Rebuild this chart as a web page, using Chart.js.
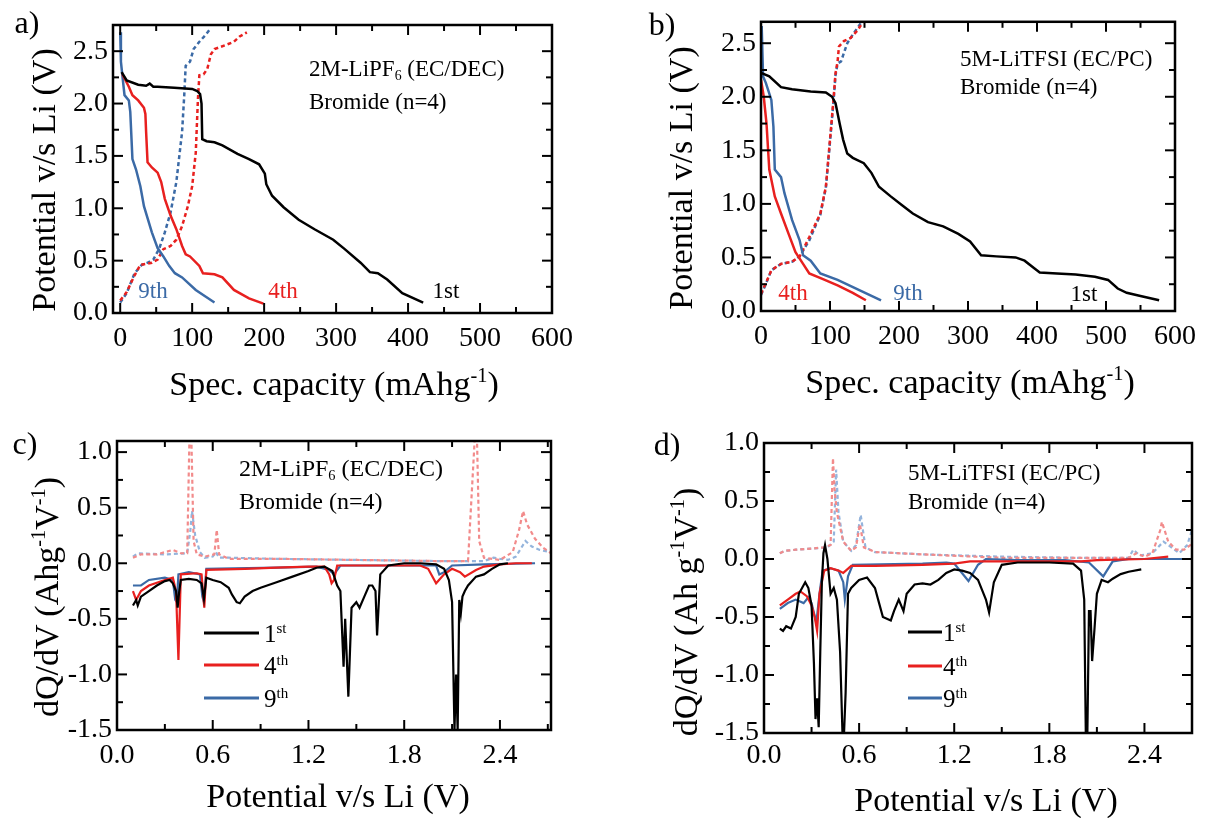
<!DOCTYPE html>
<html>
<head>
<meta charset="utf-8">
<script src="https://cdn.jsdelivr.net/npm/chart.js@4.4.1/dist/chart.umd.min.js"></script>
<style>
  body { margin: 0; width: 1205px; height: 818px; background: #fff; position: relative; overflow: hidden; }
  canvas { position: absolute; }
  .t { position: absolute; font-family: 'Liberation Serif', 'DejaVu Serif', serif; white-space: nowrap; line-height: 1; color: #000; }
  .c { transform: translate(-50%, -50%); }
  .l { transform: translate(0, -50%); }
  .r { transform: translate(-50%, -50%) rotate(-90deg); }
  .t sup { font-size: 60%; vertical-align: 0.6em; }
  .t sub { font-size: 60%; vertical-align: -0.25em; }
  .leg { position: absolute; height: 0; border-top: 3px solid; transform: translateY(-1.5px); }
</style>
</head>
<body>
<canvas id="chartA" style="left:0;top:0" width="600" height="400"></canvas>
<canvas id="chartB" style="left:600px;top:0" width="605" height="400"></canvas>
<canvas id="chartC" style="left:0;top:400px" width="600" height="418"></canvas>
<canvas id="chartD" style="left:600px;top:400px" width="605" height="418"></canvas>

<!-- panel a -->
<div class="t c" style="left:27px;top:22px;font-size:32px">a)</div>
<div class="t r" style="left:44px;top:180px;font-size:34px">Potential v/s Li (V)</div>
<div class="t c" style="left:334px;top:383px;font-size:34px">Spec. capacity (mAhg<sup>-1</sup>)</div>
<div class="t l" style="left:309px;top:70px;font-size:23px">2M-LiPF<sub>6</sub> (EC/DEC)</div>
<div class="t l" style="left:309px;top:101px;font-size:23px">Bromide (n=4)</div>
<div class="t c" style="left:153px;top:290px;font-size:23px;color:#3b6aa6">9th</div>
<div class="t c" style="left:283px;top:290px;font-size:23px;color:#e8201f">4th</div>
<div class="t c" style="left:446px;top:290px;font-size:23px">1st</div>

<!-- panel b -->
<div class="t c" style="left:662px;top:24px;font-size:32px">b)</div>
<div class="t r" style="left:681px;top:178px;font-size:34px">Potential v/s Li (V)</div>
<div class="t c" style="left:970px;top:381px;font-size:34px">Spec. capacity (mAhg<sup>-1</sup>)</div>
<div class="t l" style="left:960px;top:58px;font-size:23px">5M-LiTFSI (EC/PC)</div>
<div class="t l" style="left:960px;top:86px;font-size:23px">Bromide (n=4)</div>
<div class="t c" style="left:793px;top:292px;font-size:23px;color:#e8201f">4th</div>
<div class="t c" style="left:908px;top:292px;font-size:23px;color:#3b6aa6">9th</div>
<div class="t c" style="left:1084px;top:293px;font-size:23px">1st</div>

<!-- panel c -->
<div class="t c" style="left:25px;top:443px;font-size:32px">c)</div>
<div class="t r" style="left:46px;top:597px;font-size:34px">dQ/dV (Ahg<sup>-1</sup>V<sup>-1</sup>)</div>
<div class="t c" style="left:338px;top:796px;font-size:34px">Potential v/s Li (V)</div>
<div class="t l" style="left:239px;top:469px;font-size:24px">2M-LiPF<sub>6</sub> (EC/DEC)</div>
<div class="t l" style="left:239px;top:501px;font-size:24px">Bromide (n=4)</div>
<div class="leg" style="left:204px;top:633px;width:55px;border-color:#000"></div>
<div class="leg" style="left:204px;top:665px;width:55px;border-color:#e8201f"></div>
<div class="leg" style="left:204px;top:698px;width:55px;border-color:#3b6aa6"></div>
<div class="t l" style="left:264px;top:633px;font-size:25px">1<sup>st</sup></div>
<div class="t l" style="left:264px;top:665px;font-size:25px">4<sup>th</sup></div>
<div class="t l" style="left:264px;top:698px;font-size:25px">9<sup>th</sup></div>

<!-- panel d -->
<div class="t c" style="left:667px;top:444px;font-size:32px">d)</div>
<div class="t r" style="left:685px;top:612px;font-size:34px">dQ/dV (Ah g<sup>-1</sup>V<sup>-1</sup>)</div>
<div class="t c" style="left:986px;top:800px;font-size:34px">Potential v/s Li (V)</div>
<div class="t l" style="left:908px;top:472px;font-size:23px">5M-LiTFSI (EC/PC)</div>
<div class="t l" style="left:908px;top:501px;font-size:23px">Bromide (n=4)</div>
<div class="leg" style="left:908px;top:632px;width:34px;border-color:#000"></div>
<div class="leg" style="left:908px;top:666px;width:34px;border-color:#e8201f"></div>
<div class="leg" style="left:908px;top:698px;width:34px;border-color:#3b6aa6"></div>
<div class="t l" style="left:943px;top:632px;font-size:25px">1<sup>st</sup></div>
<div class="t l" style="left:943px;top:666px;font-size:25px">4<sup>th</sup></div>
<div class="t l" style="left:943px;top:698px;font-size:25px">9<sup>th</sup></div>

<script>
// tick labels
const capTicks = [0, 100, 200, 300, 400, 500, 600];
const potTicks = [0, 0.5, 1.0, 1.5, 2.0, 2.5];
const dqdvXTicks = [0, 0.6, 1.2, 1.8, 2.4];
const dqdvYTicks = [-1.5, -1.0, -0.5, 0, 0.5, 1.0];

// ---- panel a : 2M-LiPF6, capacity (mAh/g) vs potential (V)
const a1stCap = [2, 9, 25, 36, 41, 46, 52, 75, 100, 107, 111, 113, 114, 120, 131, 142, 163, 179, 193, 201, 203, 211, 227, 248, 270, 296, 312, 334, 347, 358, 371, 392, 421];
const a1stV = [2.30, 2.22, 2.18, 2.17, 2.19, 2.16, 2.16, 2.15, 2.14, 2.12, 2.09, 2.00, 1.66, 1.64, 1.63, 1.60, 1.52, 1.47, 1.42, 1.33, 1.23, 1.12, 1.01, 0.89, 0.80, 0.70, 0.61, 0.48, 0.39, 0.38, 0.32, 0.19, 0.10];
const a4thCap = [3, 12, 17, 25, 33, 35, 36, 38, 44, 52, 57, 62, 70, 78, 86, 91, 97, 110, 115, 131, 142, 158, 179, 199];
const a4thV = [2.28, 2.16, 2.08, 2.03, 1.96, 1.90, 1.73, 1.44, 1.39, 1.34, 1.25, 1.09, 0.93, 0.80, 0.64, 0.56, 0.54, 0.45, 0.38, 0.37, 0.34, 0.22, 0.14, 0.09];
const a9thCap = [0, 1, 3, 6, 12, 14, 17, 22, 28, 33, 44, 52, 60, 68, 76, 86, 105, 131];
const a9thV = [2.68, 2.40, 2.27, 2.08, 2.03, 1.92, 1.47, 1.37, 1.21, 1.02, 0.77, 0.62, 0.54, 0.45, 0.38, 0.34, 0.22, 0.10];
const a4thChgCap = [0, 9, 20, 28, 44, 52, 60, 70, 78, 86, 94, 100, 105, 108, 110, 116, 121, 126, 131, 147, 158, 166, 176];
const a4thChgV = [0.12, 0.20, 0.36, 0.46, 0.48, 0.51, 0.61, 0.64, 0.70, 0.83, 1.02, 1.21, 1.53, 2.04, 2.27, 2.28, 2.33, 2.47, 2.52, 2.56, 2.59, 2.64, 2.68];
const a9thChgCap = [0, 9, 20, 30, 38, 46, 54, 62, 70, 78, 86, 89, 91, 97, 102, 110, 118, 126];
const a9thChgV = [0.10, 0.19, 0.38, 0.46, 0.48, 0.51, 0.61, 0.77, 0.96, 1.25, 1.73, 2.08, 2.36, 2.40, 2.52, 2.59, 2.65, 2.72];

// ---- panel b : 5M-LiTFSI
const b1stCap = [1, 12, 29, 45, 72, 94, 103, 108, 114, 119, 125, 133, 149, 160, 171, 188, 204, 220, 242, 264, 286, 303, 319, 341, 369, 382, 396, 404, 429, 456, 484, 503, 517, 530, 550, 577];
const b1stV = [2.22, 2.19, 2.09, 2.07, 2.05, 2.04, 2.00, 1.94, 1.75, 1.60, 1.47, 1.43, 1.38, 1.29, 1.16, 1.07, 0.99, 0.91, 0.83, 0.79, 0.72, 0.65, 0.52, 0.51, 0.50, 0.47, 0.40, 0.36, 0.35, 0.34, 0.32, 0.29, 0.21, 0.17, 0.14, 0.10];
const b4thCap = [0, 4, 8, 12, 20, 29, 40, 50, 61, 70, 89, 111, 133, 152];
const b4thV = [2.16, 2.00, 1.75, 1.32, 1.07, 0.91, 0.72, 0.55, 0.44, 0.35, 0.30, 0.24, 0.17, 0.10];
const b9thCap = [1, 3, 7, 15, 18, 20, 29, 34, 45, 56, 61, 72, 86, 111, 144, 174];
const b9thV = [2.66, 2.19, 2.13, 1.97, 1.72, 1.32, 1.25, 1.10, 0.85, 0.66, 0.52, 0.47, 0.35, 0.29, 0.19, 0.10];
const b4thChgCap = [0, 7, 15, 29, 45, 56, 70, 86, 94, 100, 105, 108, 111, 113, 120, 130, 140, 148];
const b4thChgV = [0.16, 0.26, 0.38, 0.44, 0.46, 0.51, 0.69, 0.91, 1.16, 1.60, 1.97, 2.22, 2.33, 2.47, 2.52, 2.55, 2.62, 2.70];
const b9thChgCap = [0, 7, 15, 29, 45, 56, 70, 86, 94, 100, 105, 108, 111, 116, 125, 135, 146];
const b9thChgV = [0.15, 0.25, 0.38, 0.44, 0.46, 0.51, 0.66, 0.90, 1.15, 1.58, 1.95, 2.20, 2.31, 2.33, 2.50, 2.60, 2.70];

// ---- panel c : dQ/dV, 2M-LiPF6
const c1stV = [0.10, 0.12, 0.13, 0.15, 0.20, 0.25, 0.30, 0.33, 0.35, 0.37, 0.38, 0.39, 0.40, 0.45, 0.50, 0.53, 0.545, 0.56, 0.60, 0.65, 0.70, 0.72, 0.75, 0.77, 0.80, 0.85, 0.90, 1.00, 1.10, 1.20, 1.25, 1.30, 1.35, 1.38, 1.40, 1.42, 1.43, 1.45, 1.47, 1.50, 1.52, 1.55, 1.58, 1.60, 1.62, 1.63, 1.65, 1.70, 1.80, 1.90, 2.00, 2.05, 2.08, 2.10, 2.115, 2.125, 2.135, 2.145, 2.155, 2.165, 2.18, 2.20, 2.25, 2.30, 2.35, 2.40, 2.45];
const c1stD = [-0.38, -0.33, -0.38, -0.30, -0.25, -0.20, -0.16, -0.15, -0.18, -0.25, -0.40, -0.25, -0.15, -0.14, -0.15, -0.18, -0.32, -0.13, -0.15, -0.17, -0.22, -0.28, -0.35, -0.36, -0.30, -0.25, -0.22, -0.17, -0.12, -0.07, -0.04, -0.03, -0.07, -0.20, -0.25, -0.93, -0.50, -1.20, -0.40, -0.35, -0.40, -0.30, -0.20, -0.20, -0.25, -0.65, -0.10, -0.02, 0.00, 0.00, -0.01, -0.05, -0.15, -0.35, -1.50, -1.00, -1.50, -0.33, -0.45, -0.30, -0.25, -0.20, -0.12, -0.10, -0.05, -0.01, 0.00];
const c4thV = [0.10, 0.12, 0.15, 0.20, 0.30, 0.35, 0.37, 0.385, 0.40, 0.50, 0.53, 0.547, 0.56, 0.80, 1.00, 1.20, 1.30, 1.33, 1.345, 1.36, 1.38, 1.50, 1.90, 1.95, 2.00, 2.05, 2.10, 2.15, 2.18, 2.25, 2.30, 2.40, 2.50, 2.60];
const c4thD = [-0.25, -0.33, -0.25, -0.20, -0.15, -0.13, -0.25, -0.87, -0.10, -0.09, -0.10, -0.40, -0.06, -0.05, -0.04, -0.03, -0.03, -0.10, -0.18, -0.15, -0.02, -0.02, -0.02, -0.05, -0.18, -0.10, -0.05, -0.08, -0.12, -0.06, -0.03, -0.01, 0.00, 0.00];
const c9thV = [0.10, 0.15, 0.20, 0.30, 0.35, 0.365, 0.375, 0.385, 0.45, 0.52, 0.535, 0.545, 0.56, 1.00, 1.25, 1.33, 1.36, 1.40, 2.00, 2.02, 2.05, 2.10, 2.30, 2.62];
const c9thD = [-0.20, -0.20, -0.15, -0.13, -0.15, -0.33, -0.35, -0.10, -0.08, -0.10, -0.30, -0.35, -0.05, -0.04, -0.03, -0.06, -0.10, -0.02, -0.02, -0.10, -0.08, -0.02, -0.01, 0.00];
const c4thChgV = [0.10, 0.15, 0.25, 0.30, 0.35, 0.40, 0.44, 0.455, 0.465, 0.48, 0.50, 0.55, 0.61, 0.625, 0.64, 0.70, 1.00, 1.50, 2.00, 2.20, 2.245, 2.255, 2.27, 2.30, 2.40, 2.48, 2.52, 2.545, 2.57, 2.62, 2.67, 2.72];
const c4thChgD = [0.05, 0.08, 0.08, 0.10, 0.12, 0.09, 0.09, 1.20, 1.20, 0.20, 0.08, 0.06, 0.08, 0.30, 0.08, 0.04, 0.04, 0.03, 0.02, 0.02, 1.20, 1.20, 0.20, 0.05, 0.03, 0.10, 0.30, 0.47, 0.35, 0.22, 0.14, 0.09];
const c9thChgV = [0.10, 0.13, 0.30, 0.44, 0.46, 0.47, 0.49, 0.52, 0.55, 0.60, 0.62, 0.64, 0.70, 1.00, 1.50, 2.00, 2.30, 2.36, 2.40, 2.45, 2.50, 2.56, 2.60, 2.65, 2.72];
const c9thChgD = [0.06, 0.09, 0.08, 0.09, 0.30, 0.47, 0.25, 0.10, 0.05, 0.06, 0.10, 0.05, 0.05, 0.04, 0.03, 0.02, 0.02, 0.05, 0.04, 0.03, 0.06, 0.20, 0.15, 0.12, 0.10];

// ---- panel d : dQ/dV, 5M-LiTFSI
const d1stV = [0.10, 0.12, 0.14, 0.17, 0.20, 0.22, 0.26, 0.28, 0.30, 0.315, 0.325, 0.335, 0.345, 0.355, 0.365, 0.375, 0.385, 0.40, 0.42, 0.44, 0.46, 0.48, 0.495, 0.505, 0.515, 0.53, 0.55, 0.60, 0.65, 0.70, 0.72, 0.75, 0.80, 0.82, 0.85, 0.88, 0.90, 0.95, 1.00, 1.05, 1.10, 1.15, 1.20, 1.25, 1.30, 1.35, 1.40, 1.42, 1.45, 1.50, 1.60, 1.80, 1.95, 2.00, 2.02, 2.03, 2.04, 2.05, 2.06, 2.07, 2.085, 2.10, 2.13, 2.17, 2.20, 2.25, 2.30, 2.38];
const d1stD = [-0.60, -0.62, -0.58, -0.60, -0.50, -0.30, -0.20, -0.25, -0.40, -0.90, -1.38, -1.20, -1.45, -0.80, -0.20, 0.05, 0.12, 0.00, -0.30, -0.25, -0.35, -0.80, -1.50, -1.50, -1.15, -0.30, -0.25, -0.18, -0.16, -0.25, -0.35, -0.50, -0.53, -0.45, -0.35, -0.45, -0.30, -0.22, -0.21, -0.22, -0.18, -0.12, -0.09, -0.10, -0.12, -0.18, -0.35, -0.46, -0.20, -0.05, -0.03, -0.03, -0.04, -0.10, -0.35, -1.50, -1.50, -0.45, -0.45, -0.88, -0.60, -0.30, -0.18, -0.20, -0.17, -0.13, -0.11, -0.09];
const d4thV = [0.10, 0.15, 0.20, 0.23, 0.27, 0.30, 0.32, 0.335, 0.35, 0.38, 0.42, 0.47, 0.50, 0.55, 0.70, 1.00, 1.20, 1.30, 1.50, 2.00, 2.10, 2.40, 2.55];
const d4thD = [-0.40, -0.35, -0.30, -0.28, -0.32, -0.40, -0.50, -0.62, -0.30, -0.10, -0.08, -0.10, -0.12, -0.06, -0.06, -0.05, -0.04, -0.02, -0.02, -0.02, -0.01, 0.00, 0.02];
const d9thV = [0.10, 0.15, 0.20, 0.25, 0.28, 0.30, 0.33, 0.35, 0.37, 0.42, 0.47, 0.50, 0.51, 0.53, 0.56, 1.00, 1.15, 1.20, 1.29, 1.35, 1.40, 1.60, 1.90, 2.05, 2.14, 2.20, 2.30, 2.65];
const d9thD = [-0.43, -0.38, -0.35, -0.38, -0.33, -0.38, -0.55, -0.30, -0.10, -0.08, -0.10, -0.20, -0.35, -0.15, -0.05, -0.04, -0.03, -0.04, -0.19, -0.05, 0.00, -0.01, -0.01, -0.03, -0.15, -0.02, 0.00, 0.00];
const d4thChgV = [0.10, 0.13, 0.20, 0.30, 0.38, 0.42, 0.435, 0.445, 0.46, 0.50, 0.55, 0.58, 0.605, 0.63, 0.70, 1.00, 1.50, 2.00, 2.30, 2.35, 2.40, 2.45, 2.50, 2.51, 2.55, 2.60, 2.65, 2.70];
const d4thChgD = [0.05, 0.07, 0.08, 0.09, 0.10, 0.12, 0.87, 0.60, 0.40, 0.15, 0.07, 0.10, 0.30, 0.10, 0.06, 0.04, 0.01, 0.01, 0.01, 0.05, 0.02, 0.05, 0.25, 0.32, 0.15, 0.08, 0.08, 0.13];
const d9thChgV = [0.10, 0.13, 0.20, 0.30, 0.40, 0.44, 0.455, 0.47, 0.50, 0.55, 0.58, 0.61, 0.64, 0.70, 1.00, 1.50, 2.00, 2.30, 2.33, 2.37, 2.45, 2.52, 2.57, 2.62, 2.67, 2.70];
const d9thChgD = [0.05, 0.07, 0.08, 0.09, 0.10, 0.15, 0.77, 0.40, 0.15, 0.07, 0.12, 0.38, 0.10, 0.06, 0.04, 0.02, 0.01, 0.01, 0.08, 0.03, 0.05, 0.15, 0.10, 0.05, 0.12, 0.25];

const BLACK = '#000000';
const RED = '#e8201f';
const BLUE = '#3b6aa6';
const RED_LIGHT = '#f28b8b';
const BLUE_LIGHT = '#94b4dc';
const SERIF = "'Liberation Serif', 'DejaVu Serif', serif";

function series(xs, ys, color, dashed, width) {
	return {
		data: xs.map((x, i) => ({ x: x, y: ys[i] })),
		showLine: true,
		borderColor: color,
		backgroundColor: color,
		borderWidth: width,
		borderDash: dashed ? [4, 3] : [],
		pointRadius: 0,
		tension: 0,
		fill: false
	};
}

// closed frame with inward ticks on all four sides
const frameTicks = {
	id: 'frameTicks',
	afterDatasetsDraw(chart, args, opts) {
		const ctx = chart.ctx;
		const a = chart.chartArea;
		const x = chart.scales.x;
		const y = chart.scales.y;
		ctx.save();
		ctx.strokeStyle = '#000';
		ctx.lineWidth = 2;
		const seg = (x1, y1, x2, y2) => { ctx.beginPath(); ctx.moveTo(x1, y1); ctx.lineTo(x2, y2); ctx.stroke(); };
		for (let i = Math.ceil(x.min / opts.xMinor - 1e-6); i * opts.xMinor <= x.max + 1e-6; i++) {
			const v = i * opts.xMinor;
			const major = Math.abs(v / opts.xMajor - Math.round(v / opts.xMajor)) < 1e-6;
			const len = major ? 10 : 6;
			const px = x.getPixelForValue(v);
			seg(px, a.bottom, px, a.bottom - len);
			seg(px, a.top, px, a.top + len);
		}
		for (let i = Math.ceil(y.min / opts.yMinor - 1e-6); i * opts.yMinor <= y.max + 1e-6; i++) {
			const v = i * opts.yMinor;
			const major = Math.abs(v / opts.yMajor - Math.round(v / opts.yMajor)) < 1e-6;
			const len = major ? 10 : 6;
			const py = y.getPixelForValue(v);
			seg(a.left, py, a.left + len, py);
			seg(a.right, py, a.right - len, py);
		}
		ctx.lineWidth = 2.5;
		ctx.strokeRect(a.left, a.top, a.right - a.left, a.bottom - a.top);
		ctx.restore();
	}
};

function makePanel(id, datasets, box, xs, ys) {
	new Chart(id, {
		type: 'scatter',
		data: { datasets: datasets },
		plugins: [frameTicks],
		options: {
			responsive: false,
			animation: false,
			devicePixelRatio: 1,
			layout: { padding: { left: 0, top: box.top, right: box.right, bottom: 0 } },
			plugins: {
				legend: { display: false },
				tooltip: { enabled: false },
				frameTicks: { xMajor: xs.step, xMinor: xs.minor, yMajor: ys.step, yMinor: ys.minor }
			},
			scales: {
				x: {
					type: 'linear',
					min: xs.min,
					max: xs.max,
					grid: { display: false, drawTicks: false },
					border: { display: false },
					afterBuildTicks: s => { s.ticks = xs.ticks.map(v => ({ value: v })); },
					ticks: {
						autoSkip: false,
						maxRotation: 0,
						padding: xs.pad,
						color: '#000',
						font: { family: SERIF, size: 28 },
						callback: v => v.toFixed(xs.dec)
					},
					afterFit: s => { s.height = box.xh; }
				},
				y: {
					type: 'linear',
					min: ys.min,
					max: ys.max,
					grid: { display: false, drawTicks: false },
					border: { display: false },
					afterBuildTicks: s => { s.ticks = ys.ticks.map(v => ({ value: v })); },
					ticks: {
						autoSkip: false,
						padding: ys.pad,
						color: '#000',
						font: { family: SERIF, size: 28 },
						callback: v => v.toFixed(ys.dec)
					},
					afterFit: s => { s.width = box.left; }
				}
			}
		}
	});
}

makePanel('chartA', [
	series(a1stCap, a1stV, BLACK, false, 2.5),
	series(a4thCap, a4thV, RED, false, 2.5),
	series(a9thCap, a9thV, BLUE, false, 2.5),
	series(a4thChgCap, a4thChgV, RED, true, 2.5),
	series(a9thChgCap, a9thChgV, BLUE, true, 2.5)
], { left: 113, top: 25, right: 48, xh: 87 },
	{ min: -10, max: 600, ticks: capTicks, step: 100, minor: 50, dec: 0, pad: 9 },
	{ min: 0, max: 2.75, ticks: potTicks, step: 0.5, minor: 0.25, dec: 1, pad: 5 });

makePanel('chartB', [
	series(b1stCap, b1stV, BLACK, false, 2.5),
	series(b4thCap, b4thV, RED, false, 2.5),
	series(b9thCap, b9thV, BLUE, false, 2.5),
	series(b4thChgCap, b4thChgV, RED, true, 2.5),
	series(b9thChgCap, b9thChgV, BLUE, true, 2.5)
], { left: 161, top: 20, right: 21, xh: 89 },
	{ min: 0, max: 600, ticks: capTicks, step: 100, minor: 50, dec: 0, pad: 9 },
	{ min: 0, max: 2.7, ticks: potTicks, step: 0.5, minor: 0.25, dec: 1, pad: 5 });

makePanel('chartC', [
	series(c1stV, c1stD, BLACK, false, 2.2),
	series(c4thV, c4thD, RED, false, 2.2),
	series(c9thV, c9thD, BLUE, false, 2.2),
	series(c4thChgV, c4thChgD, RED_LIGHT, true, 2.2),
	series(c9thChgV, c9thChgD, BLUE_LIGHT, true, 2.2)
], { left: 117, top: 41, right: 49, xh: 88 },
	{ min: 0, max: 2.72, ticks: dqdvXTicks, step: 0.6, minor: 0.3, dec: 1, pad: 9 },
	{ min: -1.5, max: 1.1, ticks: dqdvYTicks, step: 0.5, minor: 0.25, dec: 1, pad: 5 });

makePanel('chartD', [
	series(d1stV, d1stD, BLACK, false, 2.2),
	series(d4thV, d4thD, RED, false, 2.2),
	series(d9thV, d9thD, BLUE, false, 2.2),
	series(d4thChgV, d4thChgD, RED_LIGHT, true, 2.2),
	series(d9thChgV, d9thChgD, BLUE_LIGHT, true, 2.2)
], { left: 164, top: 43, right: 13, xh: 85 },
	{ min: 0, max: 2.7, ticks: dqdvXTicks, step: 0.6, minor: 0.3, dec: 1, pad: 6 },
	{ min: -1.5, max: 1.0, ticks: dqdvYTicks, step: 0.5, minor: 0.25, dec: 1, pad: 5 });
</script>
</body>
</html>
